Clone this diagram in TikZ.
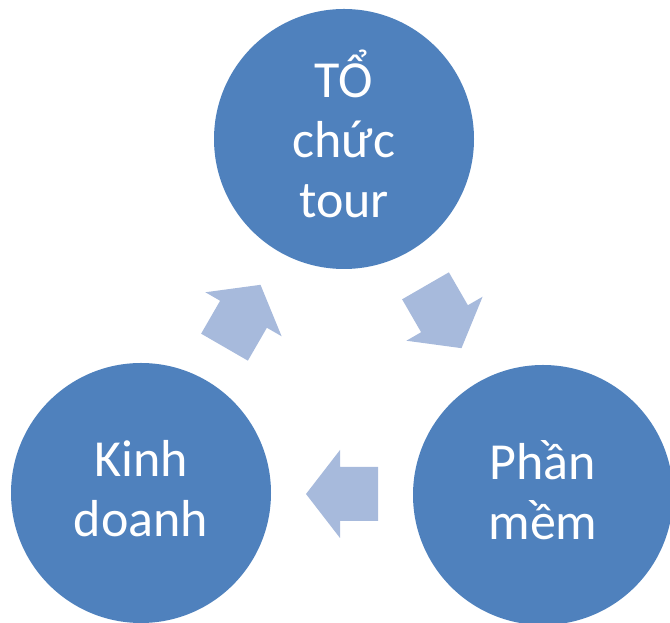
\documentclass[tikz,border=0pt]{standalone}
\usepackage{fontspec}
\setmainfont{Carlito}
\usepackage{tikz}
\usetikzlibrary{calc}
\definecolor{circblue}{RGB}{79,129,189}
\definecolor{arrblue}{RGB}{167,186,220}

\begin{document}
\begin{tikzpicture}[x=1pt,y=1pt,
        stage/.style={circle,fill=circblue,minimum size=260pt,inner sep=0pt,
          text=white,align=center,text depth=10pt,
          font=\fontsize{52}{60}\selectfont},
        cyclearrow/.pic={\fill[arrblue] (36,0)--(2,44)--(2,27)--(-36,27)
          --(-36,-27)--(2,-27)--(2,-44)--cycle;}]
        \useasboundingbox (0,0) rectangle (670,623);
        \node[stage] (tour) at (344,484) {TỔ\\chức\\tour};
        \node[stage] (kinh) at (141,130) {Kinh\\doanh};
        \node[stage] (phan) at (543,128) {Phần\\mềm};
        \pic[rotate=60] at ($(kinh)!0.5!(tour)$) {cyclearrow};
        \pic[rotate=-60] at ($(tour)!0.5!(phan)$) {cyclearrow};
        \pic[rotate=180] at ($(phan)!0.5!(kinh)$) {cyclearrow};
      \end{tikzpicture}
\end{document}
